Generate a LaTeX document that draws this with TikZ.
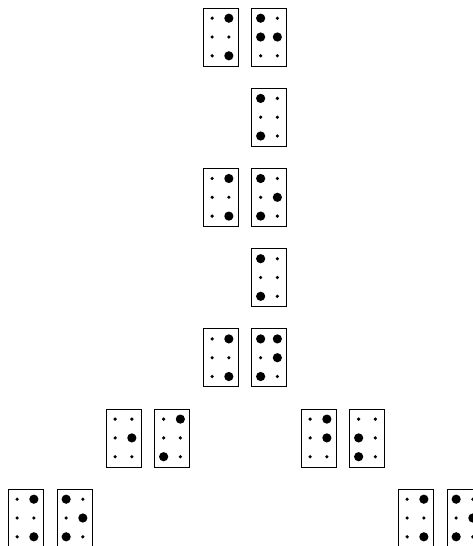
\documentclass[tikz,border=0pt]{standalone}
\usetikzlibrary{calc}
\tikzset{
  cellbox/.style={draw=black, line width=0.8pt, minimum width=35pt, minimum height=58pt, inner sep=0pt, outer sep=0pt},
}
\newcommand\bcell[4]{%
  \node[cellbox] (#1) at ({#2+17.5},{#3+29}) {};
  \foreach \v [count=\i] in {#4} {
    \pgfmathtruncatemacro\cc{int((\i-1)/3)}
    \pgfmathtruncatemacro\rr{mod(\i-1,3)}
    \ifnum\v=1
      \fill ($(#1.center)+({(\cc-0.5)*16.7},{(\rr-1)*18.8})$) circle[radius=4.6pt];
    \else
      \fill ($(#1.center)+({(\cc-0.5)*16.7},{(\rr-1)*18.8})$) circle[radius=1.8pt];
    \fi
  }
}
\begin{document}
\begin{tikzpicture}[x=1pt,y=-1pt]
\useasboundingbox (0,0) rectangle (473,546);
% row 0
\bcell{a1}{203}{8}{0,0,0,1,0,1}
\bcell{a2}{251.5}{8}{1,1,0,0,1,0}
% row 1
\bcell{b1}{251.5}{88.2}{1,0,1,0,0,0}
% row 2
\bcell{c1}{203}{168.3}{0,0,0,1,0,1}
\bcell{c2}{251.5}{168.3}{1,0,1,0,1,0}
% row 3
\bcell{d1}{251.5}{248.5}{1,0,1,0,0,0}
% row 4
\bcell{e1}{203}{328.7}{0,0,0,1,0,1}
\bcell{e2}{251.5}{328.7}{1,0,1,1,1,0}
% row 5
\bcell{f1}{106}{408.9}{0,0,0,0,1,0}
\bcell{f2}{154.5}{408.9}{0,0,1,1,0,0}
\bcell{f3}{301}{408.9}{0,0,0,1,1,0}
\bcell{f4}{349.5}{408.9}{0,1,1,0,0,0}
% row 6
\bcell{g1}{8}{489}{0,0,0,1,0,1}
\bcell{g2}{57}{489}{1,0,1,0,1,0}
\bcell{g3}{398}{489}{0,0,0,1,0,1}
\bcell{g4}{447}{489}{1,0,1,0,1,0}
\end{tikzpicture}
\end{document}
